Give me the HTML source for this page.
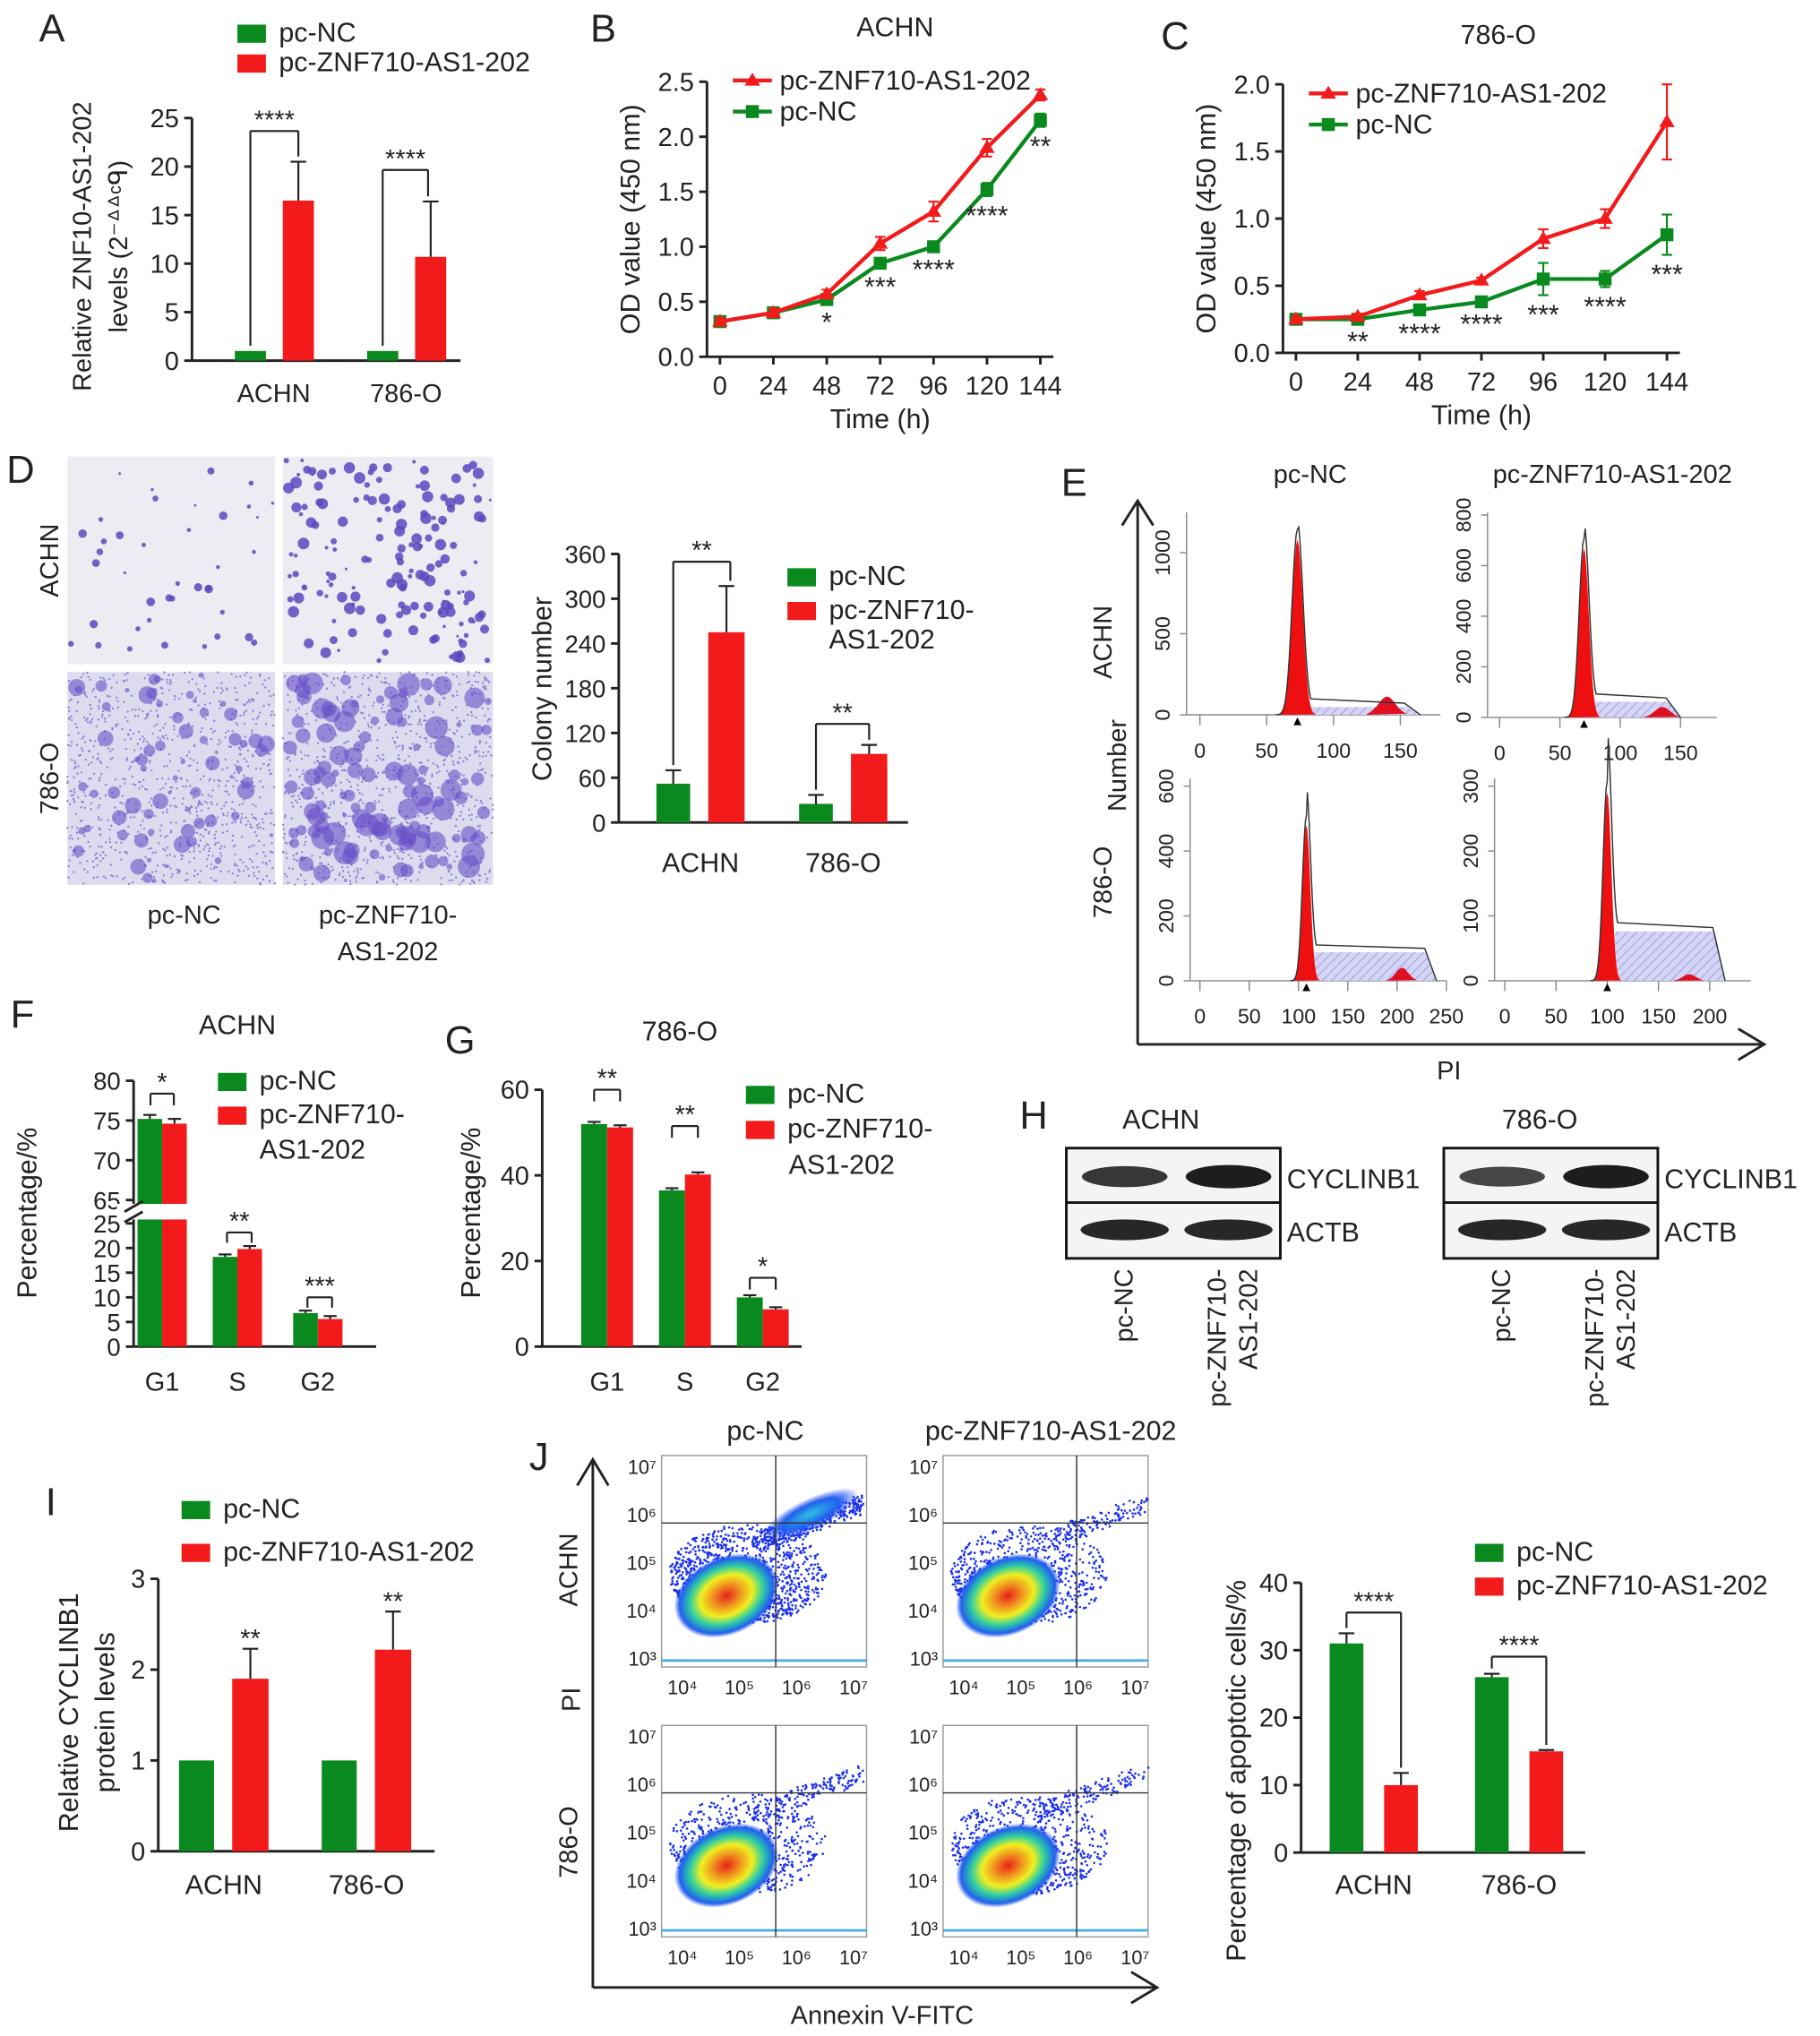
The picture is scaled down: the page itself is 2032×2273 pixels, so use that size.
<!DOCTYPE html>
<html><head><meta charset="utf-8"><style>
html,body{margin:0;padding:0;background:#fff}
svg{display:block}
text{font-family:"Liberation Sans",Arial,sans-serif;fill:#222}
</style></head><body>
<svg id="fig" xmlns="http://www.w3.org/2000/svg" width="2032" height="2273" viewBox="0 0 1403 1569.4">
<defs>
<pattern id="hatch" width="5" height="5" patternUnits="userSpaceOnUse" patternTransform="rotate(45)">
<rect width="5" height="5" fill="#d4d4f4"/><line x1="0" y1="0" x2="0" y2="5" stroke="#8a8ae0" stroke-width="1"/></pattern>
<radialGradient id="flow"><stop offset="0" stop-color="#e8201a"/><stop offset="0.3" stop-color="#f0a020"/><stop offset="0.5" stop-color="#f0f020"/><stop offset="0.7" stop-color="#30d0a0"/><stop offset="0.9" stop-color="#2060f0"/><stop offset="1" stop-color="#2040f0" stop-opacity="0"/></radialGradient>
<radialGradient id="flow2"><stop offset="0" stop-color="#30c0e0"/><stop offset="0.6" stop-color="#2060f0"/><stop offset="1" stop-color="#2040f0" stop-opacity="0"/></radialGradient>
</defs>
<g id="root"></g>
</svg>
<script>
// ---------- DATA ----------
const groups=["ACHN","786-O"];
const aNC=[1,1], aZNF=[16.5,10.7], aZNFerr=[4,5.7];
const timeTicks=[0,24,48,72,96,120,144];
const bRed=[0.32,0.4,0.57,1.03,1.32,1.9,2.38], bRedErr=[0.03,0.04,0.04,0.06,0.09,0.08,0.05];
const bGreen=[0.32,0.4,0.52,0.85,1.0,1.52,2.15], bGreenErr=[0.03,0.03,0.03,0.04,0.03,0.06,0.06];
const bSig=["","","*","***","****","****","**"];
const cRed=[0.25,0.27,0.43,0.54,0.85,1.0,1.72], cRedErr=[0.02,0.02,0.03,0.02,0.07,0.07,0.28];
const cGreen=[0.25,0.25,0.32,0.38,0.55,0.55,0.88], cGreenErr=[0.02,0.02,0.03,0.02,0.12,0.06,0.15];
const cSig=["","**","****","****","***","****","***"];
const dNC=[52,25], dZNF=[255,92], dNCerr=[18,12], dZNFerr=[62,12];
const phases=["G1","S","G2"];
const fNC=[75.2,18.2,6.8], fZNF=[74.6,19.8,5.6], fSig=["*","**","***"];
const gNC=[52,36.5,11.5], gZNF=[51.2,40.2,8.7], gSig=["**","**","*"];
const iNC=[1,1], iZNF=[1.9,2.22], iZNFerr=[0.33,0.42];
const jNC=[31,26], jZNF=[10,15], jNCerr=[1.5,0.5], jZNFerr=[1.8,0.2];

// ---------- helpers ----------
const NS="http://www.w3.org/2000/svg";
const root=document.getElementById('root');
const G='#0a8a1e', R='#f21a1a';
function el(tag,attrs,parent,txt){const e=document.createElementNS(NS,tag);for(const k in attrs)e.setAttribute(k,attrs[k]);if(txt!==undefined)e.textContent=txt;(parent||root).appendChild(e);return e;}
function grp(name){const g=el('g',{});return g;}
function T(p,x,y,s,size,anchor,extra){const t=el('text',Object.assign({x:x,y:y,'font-size':size||19,'text-anchor':anchor||'middle'},extra||{}),p,s);return t;}
function L(p,x1,y1,x2,y2,c,w){return el('line',{x1,y1,x2,y2,stroke:c||'#222','stroke-width':w||2},p);}
function yAxis(p,x,y0,y1,vmin,vmax,ticks,labs,size){const sc=v=>y0-(v-vmin)/(vmax-vmin)*(y0-y1);L(p,x,y0,x,y1);ticks.forEach((v,i)=>{L(p,x-6,sc(v),x,sc(v));if(labs)T(p,x-10,sc(v)+7,labs[i],size||19,'end');});return sc;}
function bar(p,x,w,sc,v,c,name){const r=el('rect',{x:x,y:sc(v),width:w,height:sc(0)-sc(v),fill:c},p);return r;}
function err(p,cx,sc,v,e,hw){L(p,cx,sc(v),cx,sc(v+e),'#222',1.5);L(p,cx-(hw||6),sc(v+e),cx+(hw||6),sc(v+e),'#222',1.5);}
function bracket(p,x1,x2,ya,yb1,yb2,star){L(p,x1,yb1,x1,ya,'#222',1.5);L(p,x1,ya,x2,ya,'#222',1.5);L(p,x2,ya,x2,yb2,'#222',1.5);T(p,(x1+x2)/2,ya-2,star,20);}
function legend(p,x,y,c,s,size){const r=el('rect',{x:x,y:y-13,width:22,height:14,fill:c},p);T(p,x+32,y,s,size||21,'start');}
function letter(s,x,y){T(root,x,y,s,30,'start');}

// ---------- Panel A ----------
(function(){const p=grp('panel-a');letter('A',30,32);
legend(p,183,32,G,'pc-NC');legend(p,183,55,R,'pc-ZNF710-AS1-202');
const sc=yAxis(p,148,278,91,0,25,[0,5,10,15,20,25],['0','5','10','15','20','25'],20);
L(p,148,278,355,278);
const xs=[181,283];
groups.forEach((g,i)=>{bar(p,xs[i],24,sc,aNC[i],G,'bar-nc-'+g);bar(p,xs[i]+37,24,sc,aZNF[i],R,'bar-znf-'+g);err(p,xs[i]+49,sc,aZNF[i],aZNFerr[i]);T(p,xs[i]+30,310,g,20);});
bracket(p,193,230,101,sc(aNC[0])-4,sc(aZNF[0]+aZNFerr[0])-4,'****');
bracket(p,295,330,131,sc(aNC[1])-4,sc(aZNF[1]+aZNFerr[1])-4,'****');
T(p,0,0,'Relative ZNF10-AS1-202',20,'middle',{transform:'translate(70,190) rotate(-90)'});
T(p,0,0,'levels (2⁻ᐞᐞᶜᑫ)',20,'middle',{transform:'translate(98,190) rotate(-90)'});
})();

// ---------- line chart helper ----------
function lineChart(name,x0,x1,y0,y1,vmax,ticks,tickLabs,red,redE,green,greenE,sig,title,tx,letterS,lx,ly,legY){
const p=grp(name);letter(letterS,lx,ly);T(p,tx,ly-4,title,21);
const sy=yAxis(p,x0-10,y0,y1,0,vmax,ticks,tickLabs,20);
const sx=t=>x0+t/144*(x1-x0);
L(p,x0-10,y0,x1+10,y0);
timeTicks.forEach(t=>{L(p,sx(t),y0,sx(t),y0+6);T(p,sx(t),y0+29,String(t),20);});
T(p,(x0+x1)/2,y0+55,'Time (h)',21);
T(p,0,0,'OD value (450 nm)',21,'middle',{transform:`translate(${x0-62},${(y0+y1)/2}) rotate(-90)`});
[[green,greenE,G,'series-pc-nc'],[red,redE,R,'series-pc-znf']].forEach(([d,e,c,n])=>{
 const pl=el('polyline',{points:d.map((v,i)=>sx(timeTicks[i])+','+sy(v)).join(' '),fill:'none',stroke:c,'stroke-width':3},p);
 d.forEach((v,i)=>{const X=sx(timeTicks[i]);L(p,X,sy(v-e[i]),X,sy(v+e[i]),c,1.5);L(p,X-4,sy(v+e[i]),X+4,sy(v+e[i]),c,1.5);L(p,X-4,sy(v-e[i]),X+4,sy(v-e[i]),c,1.5);
  if(c===R){const t=el('polygon',{points:`${X},${sy(v)-6} ${X-6},${sy(v)+4} ${X+6},${sy(v)+4}`,fill:c},p);}
  else{const s=el('rect',{x:X-5,y:sy(v)-5,width:10,height:10,fill:c},p);}});});
sig.forEach((s,i)=>{if(s)T(p,sx(timeTicks[i]),sy(green[i]-greenE[i])+22,s,21);});
L(p,x0+10,legY,x0+40,legY,R,3);el('polygon',{points:`${x0+25},${legY-6} ${x0+19},${legY+4} ${x0+31},${legY+4}`,fill:R},p);T(p,x0+46,legY+7,'pc-ZNF710-AS1-202',21,'start');
L(p,x0+10,legY+24,x0+40,legY+24,G,3);el('rect',{x:x0+20,y:legY+19,width:10,height:10,fill:G},p);T(p,x0+46,legY+31,'pc-NC',21,'start');
}
lineChart('panel-b',555,802,275,63,2.5,[0,0.5,1,1.5,2,2.5],['0.0','0.5','1.0','1.5','2.0','2.5'],bRed,bRedErr,bGreen,bGreenErr,bSig,'ACHN',690,'B',455,32,62);
lineChart('panel-c',999,1285,272,65,2.0,[0,0.5,1,1.5,2],['0.0','0.5','1.0','1.5','2.0'],cRed,cRedErr,cGreen,cGreenErr,cSig,'786-O',1155,'C',895,38,72);

// ---------- Panel D ----------
(function(){const p=grp('panel-d');letter('D',5,372);
let seed=7;const rnd=()=>{seed=(seed*16807)%2147483647;return seed/2147483647;};
const imgs=[[52,352,160,160,40,2.5],[218,352,162,160,160,3.5],[52,518,160,164,70,6],[218,518,162,164,130,8]];
imgs.forEach((m,k)=>{const g=el('g',{},p);
 el('rect',{x:m[0],y:m[1],width:m[2],height:m[3],fill:k>=2?'#dcdcee':'#ececf2'},g);
 const cg=el('g',{'clip-path':'none'},g);
 if(k>=2){for(let i=0;i<900;i++)el('circle',{cx:m[0]+rnd()*m[2],cy:m[1]+rnd()*m[3],r:0.8,fill:'#8a80d8'},g);}
 for(let i=0;i<m[4];i++){const r=1+rnd()*m[5];el('circle',{cx:m[0]+r+rnd()*(m[2]-2*r),cy:m[1]+r+rnd()*(m[3]-2*r),r:r,fill:k>=2?'#6850c8':'#5a48c0','fill-opacity':k>=2?0.6:0.85},g);}});
T(p,0,0,'ACHN',20,'middle',{transform:'translate(45,432) rotate(-90)'});
T(p,0,0,'786-O',20,'middle',{transform:'translate(45,600) rotate(-90)'});
T(p,142,712,'pc-NC',20);T(p,299,712,'pc-ZNF710-',20);T(p,299,740,'AS1-202',20);
const sc=yAxis(p,477,634,427,0,360,[0,60,120,180,240,300,360],['0','60','120','180','240','300','360'],19);
L(p,477,634,700,634);
const xs=[506,616];
groups.forEach((g,i)=>{bar(p,xs[i],26,sc,dNC[i],G,'bar-nc-'+g);err(p,xs[i]+13,sc,dNC[i],dNCerr[i]);bar(p,xs[i]+40,28,sc,dZNF[i],R,'bar-znf-'+g);err(p,xs[i]+54,sc,dZNF[i],dZNFerr[i]);T(p,xs[i]+34,672,g,21);});
bracket(p,519,563,433,sc(dNC[0]+dNCerr[0])-4,sc(dZNF[0]+dZNFerr[0])-4,'**');
bracket(p,629,670,558,sc(dNC[1]+dNCerr[1])-4,sc(dZNF[1]+dZNFerr[1])-4,'**');
T(p,0,0,'Colony number',21,'middle',{transform:'translate(425,531) rotate(-90)'});
legend(p,607,451,G,'pc-NC');legend(p,607,477,R,'pc-ZNF710-');T(p,639,500,'AS1-202',21,'start');
})();

// ---------- Panel E ----------
(function(){const p=grp('panel-e');letter('E',818,382);
L(p,877,805,877,388);el('polyline',{points:'865,405 877,386 889,405',fill:'none',stroke:'#222','stroke-width':2},p);
L(p,877,805,1358,805);el('polyline',{points:'1340,793 1360,805 1340,817',fill:'none',stroke:'#222','stroke-width':2},p);
T(p,1117,832,'PI',20);T(p,0,0,'Number',20,'middle',{transform:'translate(868,590) rotate(-90)'});
T(p,1010,372,'pc-NC',20);T(p,1243,372,'pc-ZNF710-AS1-202',20);
T(p,0,0,'ACHN',20,'middle',{transform:'translate(857,495) rotate(-90)'});
T(p,0,0,'786-O',20,'middle',{transform:'translate(857,680) rotate(-90)'});
const H=[[925,1.03,551,395,[0,50,100,150],[0,500,1000],0.125,73,135,6,140,14,165,180],
[1156,0.93,553,395,[0,50,100,150],[0,200,400,600,800],0.195,70,130,12,135,8,150,180],
[925,0.76,756,600,[0,50,100,150,200,250],[0,200,400,600],0.25,108,120,22,205,10,240,250],
[1160,0.79,756,600,[0,50,100,150,200],[0,100,200,300],0.5,100,145,38,180,5,215,240]];
H.forEach((h,k)=>{const g=el('g',{},p);
 const X=v=>h[0]+v*h[1],b=h[2];
 L(g,X(-10),b,X(h[13]),b,'#888',1);L(g,X(-10),b,X(-10),h[3],'#888',1);
 h[4].forEach(v=>{L(g,X(v),b,X(v),b+8,'#888',1);T(g,X(v),b+33,String(v),16);});
 h[5].forEach(v=>{const y=b-v*h[6];L(g,X(-10),y,X(-10)-5,y,'#888',1);T(g,0,0,String(v),16,'middle',{transform:`translate(${X(-10)-13},${y}) rotate(-90)`});});
 el('path',{d:`M${X(h[7])},${b} L${X(h[7]+8)},${b-h[9]} L${X(h[12]-10)},${b-h[9]} L${X(h[12])},${b} Z`,fill:'url(#hatch)'},g);
 let d=`M${X(h[7]-14)},${b}`;for(let v=-14;v<=14;v++)d+=` L${X(h[7]+v)},${b-h[8]*Math.exp(-v*v/(2*16))}`;
 el('path',{d:d+'Z',fill:'#ee1010'},g);
 d=`M${X(h[10]-15)},${b}`;for(let v=-15;v<=15;v++)d+=` L${X(h[10]+v)},${b-h[11]*Math.exp(-v*v/(2*40))}`;
 el('path',{d:d+'Z',fill:'#e01020'},g);
 d=`M${X(h[7]-16)},${b}`;for(let v=-16;v<=10;v++)d+=` L${X(h[7]+v)},${b-h[8]*1.06*Math.exp(-v*v/(2*16))-h[9]*(v>0?1:0)}`;
 d+=` L${X(h[12]-12)},${b-h[9]-3} L${X(h[12])},${b}`;
 el('path',{d:d,fill:'none',stroke:'#333','stroke-width':1},g);
 el('polygon',{points:`${X(h[7])},${b+2} ${X(h[7])-3},${b+8} ${X(h[7])+3},${b+8}`,fill:'#000'},g);
});
})();

function phaseBars(p,xs,sc,nc,znf,sig,bw,sigY){phases.forEach((ph,i)=>{bar(p,xs[i],bw,sc,nc[i],G,'bar-nc-'+ph);err(p,xs[i]+bw/2,sc,nc[i],0.5,5);bar(p,xs[i]+bw,bw,sc,znf[i],R,'bar-znf-'+ph);err(p,xs[i]+bw*1.5,sc,znf[i],0.5,5);
 bracket(p,xs[i]+bw/2,xs[i]+bw*1.5,sigY[i],sigY[i]+9,sigY[i]+9,sig[i]);T(p,xs[i]+bw,1072,ph,20);});}

// ---------- Panel F ----------
(function(){const p=grp('panel-f');letter('F',8,792);T(p,183,797,'ACHN',21);
const lo=v=>1038-v*3.8, hi=v=>925-(v-65)*6.13;
const sc=v=>v<=25?lo(v):hi(v);
L(p,103,1038,103,833);L(p,103,1038,290,1038);
[0,5,10,15,20,25].forEach(v=>{L(p,97,lo(v),103,lo(v));T(p,93,lo(v)+7,String(v),19,'end');});
[65,70,75,80].forEach(v=>{L(p,97,hi(v),103,hi(v));T(p,93,hi(v)+7,String(v),19,'end');});
const xs=[106,164,226];
phases.forEach((ph,i)=>{const v1=fNC[i],v2=fZNF[i];
 const drawB=(x,v,c,n)=>{const top=sc(v);const r=el('rect',{x:x,y:top,width:19,height:lo(0)-top,fill:c},p);};
 drawB(xs[i],v1,G,'bar-nc-'+ph);drawB(xs[i]+19,v2,R,'bar-znf-'+ph);
 err(p,xs[i]+9.5,sc,v1,0.5,5);err(p,xs[i]+28.5,sc,v2,0.6,5);T(p,xs[i]+19,1072,ph,20);});
el('rect',{x:90,y:928,width:200,height:12,fill:'#fff'},p);
L(p,96,934,110,926);L(p,96,942,110,934);
bracket(p,116,134,843,852,852,'*');bracket(p,175,194,950,958,958,'**');bracket(p,237,256,1000,1008,1008,'***');
T(p,0,0,'Percentage/%',21,'middle',{transform:'translate(28,935) rotate(-90)'});
legend(p,168,840,G,'pc-NC');legend(p,168,866,R,'pc-ZNF710-');T(p,200,893,'AS1-202',21,'start');
})();

// ---------- Panel G ----------
(function(){const p=grp('panel-g');letter('G',343,812);T(p,524,802,'786-O',21);
const sc=yAxis(p,418,1038,840,0,60,[0,20,40,60],['0','20','40','60'],20);L(p,418,1038,618,1038);
phaseBars(p,[448,508,568],sc,gNC,gZNF,gSig,20,[840,868,985]);
T(p,0,0,'Percentage/%',21,'middle',{transform:'translate(370,935) rotate(-90)'});
legend(p,575,850,G,'pc-NC');legend(p,575,877,R,'pc-ZNF710-');T(p,608,905,'AS1-202',21,'start');
})();

// ---------- Panel H ----------
(function(){const p=grp('panel-h');letter('H',786,870);
[[822,'ACHN',895,[0.7,1]],[1113,'786-O',1187,[0.55,1]]].forEach(([x,t,tx,ints])=>{
 T(p,tx,870,t,21);
 el('rect',{x:x,y:885,width:165,height:85,fill:'#f4f4f4',stroke:'#111','stroke-width':2},p);L(p,x,927,x+165,927,'#111',2);
 [0,1].forEach(j=>{const cx=x+45+j*80;
  el('ellipse',{cx:cx,cy:907,rx:33,ry:6+ints[j]*3,fill:'#111','fill-opacity':0.55+ints[j]*0.4},p);
  el('ellipse',{cx:cx,cy:948,rx:34,ry:8,fill:'#111','fill-opacity':0.9},p);
  T(p,0,0,j?'pc-ZNF710-':'pc-NC',20,'end',{transform:`translate(${cx+(j?-2:6)},978) rotate(-90)`});
  if(j)T(p,0,0,'AS1-202',20,'end',{transform:`translate(${cx+22},978) rotate(-90)`});});
 T(p,x+170,916,'CYCLINB1',21,'start');T(p,x+170,957,'ACTB',21,'start');});
})();

// ---------- Panel I ----------
(function(){const p=grp('panel-i');letter('I',35,1168);
legend(p,140,1170,G,'pc-NC');legend(p,140,1203,R,'pc-ZNF710-AS1-202');
const sc=yAxis(p,122,1427,1217,0,3,[0,1,2,3],['0','1','2','3'],20);L(p,122,1427,335,1427);
const xs=[138,248];
groups.forEach((g,i)=>{bar(p,xs[i],27,sc,iNC[i],G,'bar-nc-'+g);bar(p,xs[i]+41,28,sc,iZNF[i],R,'bar-znf-'+g);err(p,xs[i]+55,sc,iZNF[i],iZNFerr[i]);T(p,xs[i]+97/2-14,1460,g,21);T(p,xs[i]+55,sc(iZNF[i]+iZNFerr[i])-1,'**',20);});
T(p,0,0,'Relative CYCLINB1',21,'middle',{transform:'translate(60,1320) rotate(-90)'});
T(p,0,0,'protein levels',21,'middle',{transform:'translate(88,1320) rotate(-90)'});
})();

// ---------- Panel J ----------
(function(){const p=grp('panel-j');letter('J',408,1133);
T(p,590,1110,'pc-NC',21);T(p,810,1110,'pc-ZNF710-AS1-202',21);
L(p,457,1532,457,1127);el('polyline',{points:'445,1145 457,1125 469,1145',fill:'none',stroke:'#222','stroke-width':2},p);
L(p,457,1532,890,1532);el('polyline',{points:'872,1520 892,1532 872,1544',fill:'none',stroke:'#222','stroke-width':2},p);
T(p,680,1560,'Annexin V-FITC',20);T(p,0,0,'PI',20,'middle',{transform:'translate(447,1310) rotate(-90)'});
T(p,0,0,'ACHN',20,'middle',{transform:'translate(445,1210) rotate(-90)'});
T(p,0,0,'786-O',20,'middle',{transform:'translate(445,1420) rotate(-90)'});
let seed=11;const rnd=()=>{seed=(seed*16807)%2147483647;return seed/2147483647;};
const sup=n=>({3:'³',4:'⁴',5:'⁵',6:'⁶',7:'⁷'})[n];
[[510,1122,0],[727,1122,1],[510,1330,2],[727,1330,3]].forEach(([x,y,k])=>{const g=el('g',{},p);
 const w=158,h=163;el('rect',{x:x,y:y,width:w,height:h,fill:'#fff',stroke:'#999','stroke-width':1},g);
 const cx=x+50,cy=y+108;
 for(let i=0;i<(k==0?1400:800);i++){const a=rnd()*6.28,r=Math.pow(rnd(),0.6)*55;el('circle',{cx:cx+r*Math.cos(a)*1.1+r*0.3,cy:cy-r*Math.sin(a)*0.7-r*0.3,r:0.9,fill:'#1a30ee'},g);}
 for(let i=0;i<(k==0?350:150);i++){const t=rnd();el('circle',{cx:x+70+t*80+rnd()*10,cy:y+60-t*30+rnd()*14,r:0.9,fill:'#1a30ee'},g);}
 el('ellipse',{cx:cx,cy:cy,rx:42,ry:30,fill:'url(#flow)',transform:`rotate(-25 ${cx} ${cy})`},g);
 if(k==0)el('ellipse',{cx:x+115,cy:y+45,rx:40,ry:12,fill:'url(#flow2)',transform:`rotate(-25 ${x+115} ${y+45})`},g);
 L(g,x,y+h-5,x+w,y+h-5,'#4ab0e0',2);
 const vx=x+(k%2?103:88);L(g,vx,y,vx,y+h,'#333',1);L(g,x,y+52,x+w,y+52,'#333',1);
 [4,5,6,7].forEach((e,i)=>T(g,x+16+i*44,y+h+21,'10'+sup(e),15));
 [7,6,5,4,3].forEach((e,i)=>T(g,x-4,y+14+i*37,'10'+sup(e),15,'end'));
});
const sc=yAxis(p,1003,1428,1220,0,40,[0,10,20,30,40],['0','10','20','30','40'],20);L(p,1003,1428,1222,1428);
const xs=[1025,1137];
groups.forEach((g,i)=>{bar(p,xs[i],26,sc,jNC[i],G,'bar-nc-'+g);err(p,xs[i]+13,sc,jNC[i],jNCerr[i]);bar(p,xs[i]+42,26,sc,jZNF[i],R,'bar-znf-'+g);err(p,xs[i]+55,sc,jZNF[i],jZNFerr[i]);T(p,xs[i]+34,1460,g,21);});
bracket(p,1038,1080,1243,sc(jNC[0]+jNCerr[0])-4,sc(jZNF[0]+jZNFerr[0])-4,'****');
bracket(p,1150,1192,1277,sc(jNC[1]+jNCerr[1])-4,sc(jZNF[1]+jZNFerr[1])-4,'****');
T(p,0,0,'Percentage of apoptotic cells/%',21,'middle',{transform:'translate(960,1365) rotate(-90)'});
legend(p,1137,1203,G,'pc-NC');legend(p,1137,1229,R,'pc-ZNF710-AS1-202');
})();
</script>
</body></html>
